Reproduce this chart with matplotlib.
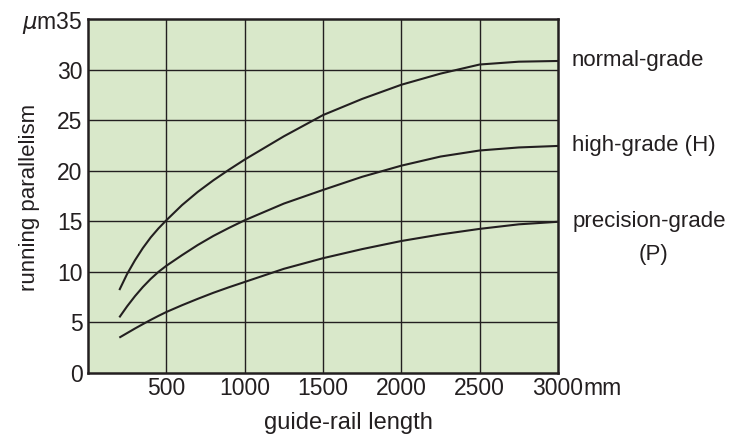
import matplotlib
matplotlib.use("Agg")
import matplotlib.pyplot as plt

### data (guide-rail length in mm, parallelism in um)
length_mm = [200, 250, 300, 350, 400, 450, 500, 600, 700, 800, 900, 1000,
             1250, 1500, 1750, 2000, 2250, 2500, 2750, 3000]
normal_grade = [8.2, 9.8, 11.15, 12.35, 13.4, 14.3, 15.1, 16.6, 17.9, 19.05, 20.1, 21.1,
                23.4, 25.5, 27.1, 28.5, 29.6, 30.5, 30.78, 30.85]
high_grade = [5.5, 6.6, 7.6, 8.5, 9.3, 10.0, 10.6, 11.65, 12.65, 13.55, 14.35, 15.1,
              16.75, 18.1, 19.4, 20.5, 21.4, 22.0, 22.3, 22.45]
precision_grade = [3.5, 3.95, 4.4, 4.83, 5.25, 5.65, 6.03, 6.7, 7.33, 7.93, 8.48, 9.0,
                   10.3, 11.35, 12.25, 13.05, 13.7, 14.25, 14.7, 14.95]

x_ticks = [500, 1000, 1500, 2000, 2500, 3000]
y_ticks = [0, 5, 10, 15, 20, 25, 30, 35]
y_ticklabels = ["0", "5", "10", "15", "20", "25", "30", "$\\mu$m35"]

### style
ink = "#231f20"
bg_green = "#d9e8ca"
plt.rcParams["font.family"] = ["Liberation Sans", "DejaVu Sans"]
plt.rcParams["mathtext.fontset"] = "dejavusans"
plt.rcParams["text.color"] = ink

fig = plt.figure(figsize=(7.32, 4.37), dpi=100)
ax = fig.add_axes([88 / 732, 64 / 437, 470 / 732, 354 / 437])
ax.set_facecolor(bg_green)

ax.set_xlim(0, 3000)
ax.set_ylim(0, 35)

### grid
for xv in x_ticks[:-1]:
    ax.axvline(xv, color=ink, lw=1.0, zorder=1)
for yv in y_ticks[1:-1]:
    ax.axhline(yv, color=ink, lw=1.0, zorder=1)

### curves
for series in (normal_grade, high_grade, precision_grade):
    ax.plot(length_mm, series, color=ink, lw=1.5, zorder=3, solid_capstyle="butt")

### ticks
ax.set_xticks(x_ticks)
ax.set_xticklabels([str(v) for v in x_ticks])
ax.set_yticks(y_ticks)
ax.set_yticklabels(y_ticklabels)
ax.tick_params(length=0, labelsize=16.5, colors=ink)
ax.tick_params(axis="x", pad=3)
ax.tick_params(axis="y", pad=4)

for sp in ax.spines.values():
    sp.set_linewidth(1.8)
    sp.set_color(ink)
    sp.set_zorder(4)

### unit after last x tick
ax.annotate("mm", xy=(3000, 0), xycoords=("data", "axes fraction"),
            xytext=(18.35, -3), textcoords="offset points",
            ha="left", va="top", fontsize=16.5, color=ink)

### axis labels
fig.text(30 / 732, (437 - 197) / 437, "running parallelism", rotation=90,
         ha="center", va="center", fontsize=16, color=ink)
fig.text(348 / 732, (437 - 429) / 437, "guide-rail length",
         ha="center", va="baseline", fontsize=17, color=ink)

### curve names
ax.annotate("normal-grade", xy=(3000, normal_grade[-1]), xytext=(14, 0),
            textcoords="offset pixels", ha="left", va="center",
            fontsize=16, annotation_clip=False)
ax.annotate("high-grade (H)", xy=(3000, high_grade[-1]), xytext=(14, 0),
            textcoords="offset pixels", ha="left", va="center",
            fontsize=16, annotation_clip=False)
ax.annotate("precision-grade", xy=(3000, precision_grade[-1]), xytext=(15, 0),
            textcoords="offset pixels", ha="left", va="center",
            fontsize=16, annotation_clip=False)
ax.annotate("(P)", xy=(3000, precision_grade[-1]), xytext=(95, -33),
            textcoords="offset pixels", ha="center", va="center",
            fontsize=16, annotation_clip=False)

fig.savefig("out.png", dpi=100)
